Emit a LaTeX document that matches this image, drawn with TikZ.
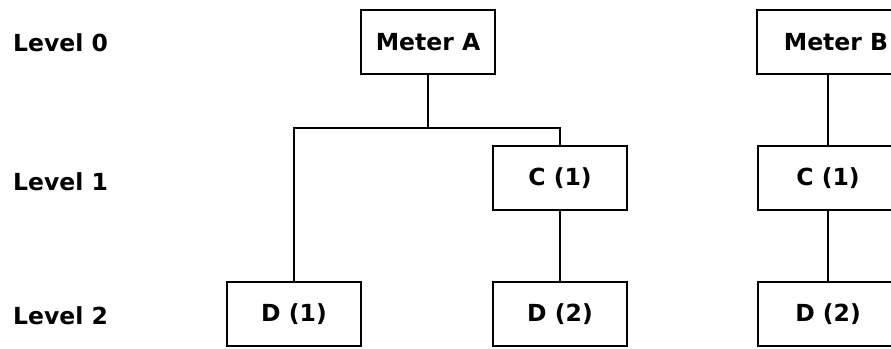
\documentclass[tikz,border=0pt]{standalone}
\usepackage{fontspec}
\setmainfont{DejaVu Sans}
\usepackage{xcolor}
\usepackage{tikz}
\usetikzlibrary{positioning}

\begin{document}
\begin{tikzpicture}[
    x=1pt, y=-1pt,
    box/.style={draw, rectangle, line width=2.4pt, minimum width=134pt, minimum height=64pt, inner sep=0pt, font=\bfseries\fontsize{23.5}{28}\selectfont},
    level/.style={anchor=west, inner sep=0pt, font=\bfseries\fontsize{23.5}{28}\selectfont},
    link/.style={line width=1.8pt}
]
    \useasboundingbox (0,0) rectangle (891,348);

    \node (lvl0) [level] at (13,43) {Level 0};
    \node (lvl1) [level] at (13,182) {Level 1};
    \node (lvl2) [level] at (13,316) {Level 2};

    \node (meterA) [box] at (428,42) {Meter A};
    \node (cA) [box] at (560,178) {C (1)};
    \node (dOne) [box] at (294,314) {D (1)};
    \node (dTwoA) [box] at (560,314) {D (2)};

    \node (meterB) [box, minimum width=158pt] at (836,42) {Meter B};
    \node (cB) [box, minimum width=140pt] at (828,178) {C (1)};
    \node (dTwoB) [box, minimum width=140pt] at (828,314) {D (2)};

    \coordinate (split) at (428,128);

    \draw [link] (meterA) -- (split);
    \draw [link] (split) -| (dOne);
    \draw [link] (split) -| (cA);
    \draw [link] (cA) -- (dTwoA);
    \draw [link] (meterB.south -| cB) -- (cB);
    \draw [link] (cB) -- (dTwoB);
\end{tikzpicture}
\end{document}
